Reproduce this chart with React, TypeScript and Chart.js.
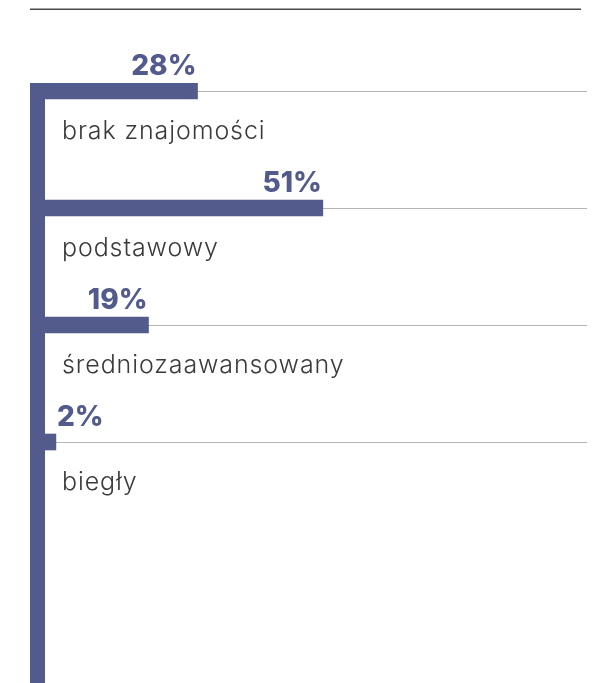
import React, { useEffect, useRef } from 'react';
import { Chart, registerables } from 'chart.js';

Chart.register(...registerables);

const categories = ['brak znajomości', 'podstawowy', 'średniozaawansowany', 'biegły'];
const values = [28, 51, 19, 2];
const valueLabels = ['28%', '51%', '19%', '2%'];

const BAR_COLOR = '#535b8c';
const LABEL_COLOR = '#3a3a3a';
const GRID_COLOR = '#b5b5b5';

const W = 598;
const H = 683;

const decorPlugin = {
  id: 'decor',
  beforeDatasetsDraw(chart: any) {
    const { ctx, chartArea } = chart;
    ctx.save();
    // top rule
    ctx.fillStyle = '#4a4a4a';
    ctx.fillRect(30, 8.5, 551, 1.5);
    // thick left rule
    ctx.fillStyle = BAR_COLOR;
    ctx.fillRect(chartArea.left - 15, chartArea.top, 15, chartArea.bottom - chartArea.top);
    ctx.restore();
  },
  afterDatasetsDraw(chart: any) {
    const { ctx, chartArea } = chart;
    const meta = chart.getDatasetMeta(0);
    ctx.save();
    meta.data.forEach((bar: any, i: number) => {
      // value label
      ctx.font = '800 28px Inter, "Open Sans", sans-serif';
      ctx.fillStyle = BAR_COLOR;
      ctx.textAlign = 'right';
      ctx.textBaseline = 'alphabetic';
      const tw = ctx.measureText(valueLabels[i]).width;
      const vx = Math.max(bar.x - 1, chartArea.left + 12 + tw);
      ctx.fillText(valueLabels[i], vx, bar.y - 16);
      // category label
      ctx.font = '300 25px Inter, "Open Sans", sans-serif';
      (ctx as any).letterSpacing = '0.9px';
      ctx.fillStyle = LABEL_COLOR;
      ctx.textAlign = 'left';
      ctx.fillText(categories[i], chartArea.left + 17, bar.y + 48);
      (ctx as any).letterSpacing = '0px';
    });
    ctx.restore();
  },
};

export default function App() {
  const ref = useRef<HTMLCanvasElement | null>(null);

  useEffect(() => {
    if (!ref.current) return;
    const step = 117;
    const chart = new Chart(ref.current, {
      type: 'bar',
      data: {
        labels: categories,
        datasets: [
          {
            data: values.map((v, i) => ({ x: v, y: i })),
            backgroundColor: BAR_COLOR,
            borderWidth: 0,
            barThickness: 16,
          },
        ],
      },
      options: {
        indexAxis: 'y',
        animation: false,
        responsive: false,
        devicePixelRatio: 1,
        layout: { padding: { top: 83, left: 45, right: 11, bottom: 0 } },
        plugins: { legend: { display: false }, tooltip: { enabled: false } },
        scales: {
          x: { type: 'linear', min: 0, max: 99.5, display: false, offset: false },
          y: {
            type: 'linear',
            reverse: true,
            offset: false,
            min: -8 / step,
            max: (600 - 8) / step,
            ticks: { display: false },
            border: { display: false },
            grid: {
              offset: false,
              drawTicks: false,
              lineWidth: 1,
              color: GRID_COLOR,
            },
            afterBuildTicks: (s: any) => {
              s.ticks = values.map((_, i) => ({ value: i }));
            },
            afterFit: (s: any) => {
              s.width = 0;
            },
          },
        },
      },
      plugins: [decorPlugin],
    } as any);
    return () => chart.destroy();
  }, []);

  return (
    <div style={{ position: 'absolute', left: 0, top: 0, width: W, height: H }}>
      <canvas ref={ref} width={W} height={H} style={{ display: 'block', width: W, height: H }} />
    </div>
  );
}
